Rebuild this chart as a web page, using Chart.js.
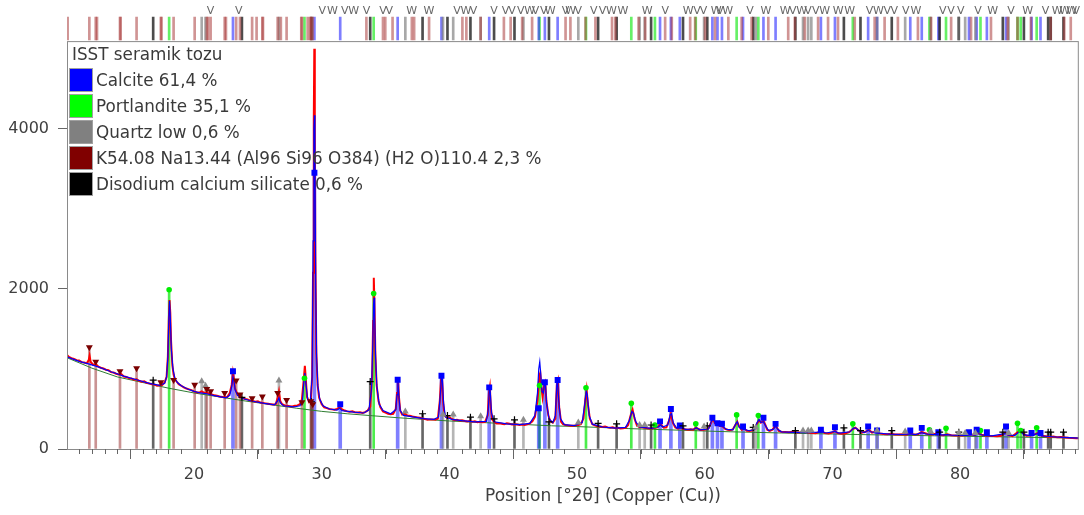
<!DOCTYPE html>
<html>
<head>
<meta charset="utf-8">
<script src="https://cdn.jsdelivr.net/npm/chart.js@4.4.1/dist/chart.umd.min.js"></script>
<style>
  body { margin: 0; background: #fff; }
  #wrap { position: relative; width: 1084px; height: 515px; }
  #legend { position: absolute; left: 69px; top: 43px; font: 16.8px 'DejaVu Sans', sans-serif; color: #3a3a3a; }
  #legend .title { height: 24px; line-height: 22px; padding-left: 3px; }
  #legend .row { display: flex; align-items: center; height: 26px; }
  #legend .box { width: 24px; height: 24px; box-sizing: border-box; border: 1px solid #a0a0a0; margin-right: 3px; }
</style>
</head>
<body>
<div id="wrap">
  <canvas id="myChart" width="1084" height="515"></canvas>
  <div id="legend"></div>
</div>
<script>
// axis ticks
const xTicks = [20, 30, 40, 50, 60, 70, 80];
const yTicks = [0, 2000, 4000];
const xTitle = 'Position [°2θ] (Copper (Cu))';

const legendTitle = 'ISST seramik tozu';
const phaseNames = ['Calcite 61,4 %', 'Portlandite 35,1 %', 'Quartz low 0,6 %',
  'K54.08 Na13.44 (Al96 Si96 O384) (H2 O)110.4 2,3 %', 'Disodium calcium silicate 0,6 %'];
const phaseColors = ['#0000ff', '#00ff00', '#808080', '#800000', '#000000'];

// observed scan [2theta, counts]
const observed = [
  [10.05,1175],[10.2,1150],[10.4,1135],[10.6,1125],[10.8,1110],[11.0,1105],[11.2,1085],[11.4,1080],[11.6,1070],[11.75,1110],
  [11.82,1165],[11.9,1090],[12.1,1050],[12.3,1060],[12.5,1030],[12.7,1015],[12.9,1005],[13.1,990],[13.3,985],[13.5,960],
  [13.7,955],[13.9,940],[14.1,930],[14.3,935],[14.5,905],[14.7,900],[14.9,885],[15.1,880],[15.3,865],[15.5,870],
  [15.7,850],[15.9,840],[16.1,845],[16.3,825],[16.5,820],[16.7,810],[16.9,805],[17.1,790],[17.3,795],[17.5,800],
  [17.7,830],[17.85,900],[17.95,1150],[18.02,1600],[18.08,1860],[18.14,1700],[18.2,1350],[18.3,1050],[18.4,930],[18.5,870],
  [18.65,840],[18.8,810],[19.0,790],[19.2,770],[19.4,755],[19.6,745],[19.8,735],[20.0,720],[20.2,710],[20.4,705],
  [20.6,720],[20.8,700],[21.0,705],[21.2,690],[21.4,680],[21.6,670],[21.8,665],[22.0,655],[22.2,650],[22.4,645],
  [22.6,650],[22.8,700],[22.95,800],[23.05,950],[23.12,880],[23.2,760],[23.3,720],[23.4,690],[23.6,650],[23.8,640],
  [24.0,625],[24.2,620],[24.4,605],[24.6,600],[24.8,590],[25.0,595],[25.2,580],[25.4,575],[25.6,570],[25.8,565],
  [26.0,560],[26.2,555],[26.4,560],[26.55,640],[26.65,720],[26.75,600],[26.9,560],[27.1,545],[27.3,540],[27.5,535],
  [27.7,530],[27.9,540],[28.1,545],[28.3,560],[28.45,620],[28.6,880],[28.68,1040],[28.76,860],[28.85,650],[29.0,590],
  [29.15,620],[29.25,900],[29.32,2200],[29.38,4100],[29.42,5000],[29.46,4000],[29.5,2400],[29.58,1200],[29.68,800],[29.8,640],
  [30.0,560],[30.2,520],[30.4,510],[30.6,500],[30.8,495],[31.0,490],[31.2,500],[31.4,520],[31.6,495],[31.8,480],
  [32.0,470],[32.2,465],[32.4,470],[32.6,460],[32.8,455],[33.0,460],[33.2,450],[33.4,460],[33.6,480],[33.8,530],
  [33.95,900],[34.03,1600],[34.08,2140],[34.14,1750],[34.2,1200],[34.3,800],[34.45,600],[34.6,520],[34.8,470],[35.0,455],
  [35.2,440],[35.4,435],[35.6,440],[35.8,500],[35.9,700],[35.97,880],[36.05,650],[36.15,480],[36.3,430],[36.5,440],
  [36.7,420],[36.9,415],[37.1,405],[37.3,400],[37.5,395],[37.7,390],[37.9,380],[38.1,375],[38.3,365],[38.5,370],
  [38.7,370],[38.9,365],[39.1,380],[39.25,600],[39.35,880],[39.42,910],[39.5,620],[39.6,430],[39.8,390],[40.0,395],
  [40.2,375],[40.4,360],[40.6,365],[40.8,355],[41.0,360],[41.2,350],[41.4,345],[41.6,350],[41.8,340],[42.0,345],
  [42.2,335],[42.4,340],[42.6,335],[42.8,340],[43.0,420],[43.1,700],[43.17,770],[43.25,520],[43.35,370],[43.5,340],
  [43.7,320],[43.9,320],[44.1,315],[44.3,310],[44.5,320],[44.7,315],[44.9,305],[45.1,310],[45.3,305],[45.5,300],
  [45.7,305],[45.9,300],[46.1,310],[46.3,320],[46.5,345],[46.7,400],[46.9,600],[47.05,920],[47.12,950],[47.2,780],
  [47.3,650],[47.42,800],[47.5,830],[47.6,600],[47.75,420],[47.9,350],[48.1,330],[48.3,380],[48.42,800],[48.5,850],
  [48.6,520],[48.75,340],[48.9,310],[49.1,300],[49.3,295],[49.5,290],[49.7,290],[49.9,295],[50.1,300],[50.3,310],
  [50.5,380],[50.65,620],[50.75,740],[50.85,560],[51.0,380],[51.2,310],[51.4,295],[51.6,285],[51.8,280],[52.0,275],
  [52.2,280],[52.4,270],[52.6,265],[52.8,270],[53.0,260],[53.2,265],[53.4,255],[53.6,260],[53.8,265],[54.0,300],
  [54.2,420],[54.35,490],[54.5,380],[54.7,290],[54.9,275],[55.1,270],[55.3,265],[55.5,258],[55.7,255],[55.9,260],
  [56.1,265],[56.3,270],[56.5,310],[56.6,300],[56.8,265],[57.0,270],[57.2,350],[57.35,440],[57.5,330],[57.7,270],
  [57.9,255],[58.1,270],[58.3,250],[58.5,245],[58.7,240],[58.9,245],[59.1,240],[59.3,265],[59.5,250],[59.7,238],
  [59.9,240],[60.1,245],[60.3,260],[60.5,330],[60.65,380],[60.8,320],[61.0,300],[61.2,290],[61.4,280],[61.6,250],
  [61.8,240],[62.0,235],[62.2,245],[62.4,300],[62.55,340],[62.7,280],[62.9,240],[63.1,255],[63.3,228],[63.5,225],
  [63.7,230],[63.9,250],[64.1,320],[64.25,360],[64.4,330],[64.6,350],[64.75,300],[64.9,240],[65.1,225],[65.3,240],
  [65.5,285],[65.65,270],[65.8,225],[66.0,215],[66.3,212],[66.6,210],[66.9,215],[67.2,205],[67.5,208],[67.8,215],
  [68.1,205],[68.4,200],[68.7,198],[69.0,215],[69.2,220],[69.4,200],[69.7,195],[70.0,205],[70.2,225],[70.4,200],
  [70.7,192],[71.0,195],[71.3,210],[71.6,250],[71.8,265],[72.0,240],[72.3,205],[72.6,215],[72.85,240],[73.1,205],
  [73.4,215],[73.7,195],[74.0,188],[74.3,185],[74.6,190],[74.9,182],[75.2,180],[75.5,183],[75.8,178],[76.1,195],
  [76.4,180],[76.7,185],[77.0,210],[77.2,200],[77.5,185],[77.8,180],[78.1,190],[78.4,175],[78.7,172],[79.0,185],
  [79.3,172],[79.6,168],[79.9,170],[80.2,168],[80.5,175],[80.8,185],[81.1,175],[81.4,195],[81.7,178],[82.0,170],
  [82.3,165],[82.6,162],[82.9,160],[83.2,165],[83.5,200],[83.8,175],[84.1,160],[84.4,195],[84.65,225],[84.9,200],
  [85.2,165],[85.5,170],[85.8,180],[86.1,200],[86.4,165],[86.7,158],[87.0,150],[87.3,155],[87.6,148],[87.9,150],
  [88.2,145],[88.5,140],[88.8,138],[89.1,135],[89.3,133]
];

// calculated profile
const calculated = [
  [10.05,1150],[11.0,1095],[11.8,1060],[12.5,1025],[13.5,965],[14.5,910],[15.5,865],[16.5,820],[17.3,795],[17.7,820],
  [17.85,900],[17.95,1150],[18.03,1650],[18.08,1850],[18.14,1650],[18.22,1250],[18.35,1000],[18.5,880],[18.7,830],[19.0,790],
  [19.5,750],[20.0,720],[20.5,700],[21.0,690],[21.5,670],[22.0,655],[22.5,640],[22.8,670],[22.95,780],[23.05,900],
  [23.12,860],[23.22,740],[23.4,670],[23.8,630],[24.5,600],[25.5,570],[26.3,552],[26.55,600],[26.65,640],[26.75,580],
  [27.0,540],[27.8,525],[28.3,540],[28.5,620],[28.62,880],[28.68,950],[28.76,820],[28.9,620],[29.1,580],[29.25,900],
  [29.33,2600],[29.39,4000],[29.43,4170],[29.47,3700],[29.53,2000],[29.6,1150],[29.7,780],[29.85,620],[30.1,540],[30.6,500],
  [31.2,485],[31.4,510],[31.6,480],[32.5,460],[33.3,450],[33.7,490],[33.9,750],[34.0,1300],[34.06,1800],[34.1,1890],
  [34.15,1650],[34.22,1150],[34.32,780],[34.5,560],[34.8,480],[35.4,440],[35.8,490],[35.9,680],[35.97,850],[36.05,650],
  [36.15,480],[36.4,420],[37.0,405],[38.0,380],[38.8,370],[39.15,400],[39.3,700],[39.38,900],[39.45,870],[39.55,560],
  [39.7,400],[40.2,370],[41.0,355],[42.0,340],[42.9,345],[43.05,500],[43.13,750],[43.2,720],[43.3,450],[43.5,340],
  [44.5,315],[45.5,305],[46.3,320],[46.7,420],[46.9,700],[47.0,1000],[47.08,1090],[47.15,950],[47.25,720],[47.35,700],
  [47.45,820],[47.52,800],[47.62,560],[47.8,380],[48.1,330],[48.3,420],[48.42,820],[48.48,850],[48.56,620],[48.7,380],
  [49.0,305],[49.8,292],[50.4,330],[50.6,560],[50.72,720],[50.8,680],[50.95,420],[51.2,310],[52.0,275],[53.0,262],
  [53.8,270],[54.1,360],[54.3,470],[54.42,450],[54.6,340],[54.9,275],[55.8,258],[56.4,280],[56.55,300],[56.7,275],
  [57.1,300],[57.3,430],[57.4,440],[57.55,320],[57.8,262],[58.1,265],[58.5,245],[59.2,250],[59.35,265],[59.6,240],
  [60.3,250],[60.55,360],[60.7,375],[60.85,310],[61.1,300],[61.4,285],[61.7,245],[62.2,240],[62.45,320],[62.55,340],
  [62.7,270],[63.0,248],[63.5,228],[63.9,245],[64.1,330],[64.25,370],[64.4,330],[64.6,340],[64.8,280],[65.0,230],
  [65.4,250],[65.55,290],[65.7,250],[66.0,215],[67.0,208],[68.0,203],[69.0,210],[69.2,215],[69.5,200],[70.2,220],
  [70.5,198],[71.4,215],[71.65,260],[71.85,262],[72.1,225],[72.5,205],[72.8,235],[73.0,215],[73.5,200],[74.5,186],
  [75.5,181],[76.1,190],[76.5,180],[77.0,205],[77.3,190],[78.0,180],[78.4,175],[79.0,180],[79.4,172],[80.5,170],
  [80.8,180],[81.2,172],[81.45,190],[81.8,172],[82.5,163],[83.5,192],[83.8,172],[84.3,170],[84.55,205],[84.75,215],
  [85.0,180],[85.5,168],[86.05,192],[86.4,162],[87.5,150],[88.5,142],[89.3,135]
];

// fitted background
const background = [
  [10.05,1140],[12,1010],[14,900],[16,830],[18,760],[20,700],[22,650],[24,600],[26,555],[28,510],
  [30,470],[32,440],[34,415],[36,390],[38,370],[40,350],[42,335],[44,320],[46,305],[48,290],
  [50,280],[52,268],[54,255],[56,245],[58,235],[60,225],[62,215],[64,208],[66,200],[68,193],
  [70,187],[72,181],[74,175],[76,170],[78,165],[80,160],[82,155],[84,150],[86,145],[88,140],[89.3,137]
];

// reference patterns [2theta, marker height]
const calcite = [
  [23.05,970],[29.43,3450],[31.45,560],[35.95,865],[39.38,915],[43.12,770],[47.0,510],[47.48,833],[48.48,863],[56.5,345],
  [57.35,500],[58.05,295],[60.6,390],[61.0,322],[61.35,315],[63.0,280],[64.6,390],[65.55,314],[69.1,240],[70.2,272],
  [72.8,280],[73.5,230],[76.1,230],[77.0,264],[78.3,210],[80.7,210],[81.3,240],[82.1,210],[83.6,280],[85.6,200],[86.3,200]
];
const portlandite = [
  [18.05,1990],[28.65,883],[34.07,1943],[47.06,792],[50.7,765],[54.25,570],[56.1,300],[59.3,314],[62.5,426],[64.2,418],
  [71.6,314],[77.6,240],[78.9,260],[81.6,230],[84.5,322],[84.75,230],[86.0,264]
];
const quartz = [
  [20.6,845],[20.9,790],[26.65,855],[36.55,467],[39.5,430],[40.3,430],[42.45,410],[45.8,364],[50.1,330],[54.9,300],
  [55.3,300],[59.95,280],[64.0,270],[67.7,230],[68.1,230],[68.35,230],[73.5,230],[75.7,220],[77.7,220],[79.9,200],
  [80.4,200],[81.2,200],[83.8,200]
];
const kNaZeolite = [
  [11.8,1270],[12.3,1090],[14.2,970],[15.5,1010],[17.4,833],[18.4,863],[20.05,804],[21.0,750],[21.3,720],[22.4,700],
  [23.3,855],[23.6,680],[24.55,633],[25.35,655],[26.55,700],[27.25,613],[28.45,584],[29.15,596],[29.3,560]
];
const disodium = [
  [16.8,860],[23.75,645],[29.2,590],[33.8,842],[37.9,440],[39.85,418],[41.65,397],[43.5,377],[45.1,364],[47.8,340],
  [51.65,320],[53.1,315],[55.8,300],[58.3,290],[60.2,290],[63.8,270],[67.1,230],[70.9,264],[72.2,230],[74.65,230],
  [78.4,210],[79.9,210],[83.35,210],[85.0,210],[86.9,210],[87.1,210],[88.1,210]
];
// weak K-Na lines shown only in the top strip
const kNaStrip = [
  10.1,12.4,14.25,17.45,21.1,22.5,24.9,25.4,26.8,28.4,28.9,29.1,33.5,34.8,34.98,35.55,37.06,37.24,38.41,41.02,
  41.33,42.45,44.27,44.8,45.7,46.48,49.1,49.48,50.66,51.44,52.74,53.0,54.82,55.34,56.9,57.42,58.86,59.25,60.03,60.81,
  61.85,62.89,63.67,64.98,66.54,67.06,67.84,68.88,69.66,70.44,71.75,73.31,74.09,75.13,76.7,77.73,79.3,80.86,82.42,83.73,
  84.5,85.55,87.1,88.16,88.67
];
// peak-list letters above the strip
const vMarks = [21.3,23.5,30.05,31.8,33.5,34.8,35.3,40.6,41.9,43.5,44.4,44.9,45.6,46.75,47.4,49.1,50.1,51.3,52.0,56.9,
  59.4,59.9,61.2,63.55,66.9,68.1,68.7,72.9,74.3,74.85,75.75,78.65,79.3,80.05,81.4,84.0,86.7,89.1];
const wMarks = [30.85,32.5,37.05,38.4,41.3,46.3,47.9,49.5,52.7,53.6,55.5,58.7,60.9,61.8,64.8,66.3,67.6,69.4,70.45,71.35,
  73.6,76.55,82.55,85.3,87.6,88.2,88.75];

// legend
const legendEl = document.getElementById('legend');
legendEl.innerHTML = '<div class="title">' + legendTitle + '</div>' + phaseNames.map((n, i) =>
  '<div class="row"><div class="box" style="background:' + phaseColors[i] + '"></div><span>' + n + '</span></div>').join('');

Chart.defaults.font.family = "'DejaVu Sans', sans-serif";
Chart.defaults.color = '#404040';

const xy = arr => arr.map(p => ({x: p[0], y: p[1]}));
const stick = arr => arr.map(p => ({x: p[0], y: [0, p[1]]}));
const stripLine = xs => xs.map(v => ({x: v, y: [0.03, 0.67]}));
const noPad = s => { s.paddingTop = 0; s.paddingBottom = 0; s.paddingLeft = 0; s.paddingRight = 0; };

function stickSet(data, color, axis, order, thick) {
  return { type: 'bar', data: data, yAxisID: axis, backgroundColor: color, borderWidth: 0,
    barThickness: thick || 2, grouped: false, order: order };
}
function markerSet(data, style, color, radius, rotation) {
  return { type: 'line', data: xy(data), yAxisID: 'y', showLine: false, pointStyle: style,
    pointRadius: radius, pointBackgroundColor: color, pointBorderColor: color, pointBorderWidth: style === 'cross' ? 1.2 : 0,
    pointRotation: rotation || 0, order: 0 };
}

const extras = {
  id: 'extras',
  afterDatasetsDraw(chart) {
    const ctx = chart.ctx;
    const x = chart.scales.x, y = chart.scales.y, yr = chart.scales.yRef;
    ctx.save();
    ctx.strokeStyle = '#8a8a8a';
    ctx.lineWidth = 1;
    ctx.strokeRect(x.left + 0.5, y.top + 0.5, x.right - x.left - 1, y.bottom - y.top);
    // minor ticks
    ctx.strokeStyle = '#666';
    ctx.beginPath();
    for (let v = Math.ceil(x.min); v <= x.max; v++) {
      if (v % 10 === 0) continue;
      const px = Math.round(x.getPixelForValue(v)) + 0.5;
      ctx.moveTo(px, y.bottom);
      ctx.lineTo(px, y.bottom + 5);
    }
    ctx.stroke();
    ctx.fillStyle = '#404040';
    ctx.font = "17px 'DejaVu Sans', sans-serif";
    ctx.textAlign = 'center';
    ctx.textBaseline = 'middle';
    ctx.fillText(xTitle, 603, 497);
    ctx.fillStyle = '#666';
    ctx.font = "11px 'DejaVu Sans', sans-serif";
    const ty = yr.getPixelForValue(0.84);
    vMarks.forEach(v => ctx.fillText('V', x.getPixelForValue(v), ty));
    wMarks.forEach(v => ctx.fillText('W', x.getPixelForValue(v), ty));
    ctx.restore();
  }
};

new Chart(document.getElementById('myChart'), {
  type: 'line',
  data: {
    datasets: [
      stickSet(stripLine(kNaStrip.concat(kNaZeolite.map(p => p[0]))), 'rgba(170,60,60,0.55)', 'yRef', 9),
      stickSet(stripLine(quartz.map(p => p[0])), 'rgba(110,110,110,0.6)', 'yRef', 9),
      stickSet(stripLine(disodium.map(p => p[0])), 'rgba(0,0,0,0.7)', 'yRef', 9),
      stickSet(stripLine(calcite.map(p => p[0])), 'rgba(40,40,255,0.6)', 'yRef', 9),
      stickSet(stripLine(portlandite.map(p => p[0])), 'rgba(0,230,0,0.6)', 'yRef', 9),

      stickSet(stick(kNaZeolite), 'rgba(150,40,40,0.5)', 'y', 8),
      stickSet(stick(quartz), 'rgba(120,120,120,0.55)', 'y', 8),
      stickSet(stick(disodium), 'rgba(0,0,0,0.6)', 'y', 8),
      stickSet(stick(calcite), 'rgba(0,0,255,0.5)', 'y', 8, 3),
      stickSet(stick(portlandite), 'rgba(0,230,0,0.7)', 'y', 8),

      { data: xy(background), yAxisID: 'y', borderColor: '#2e7d32', borderWidth: 1, pointRadius: 0, order: 3 },
      { data: xy(observed), yAxisID: 'y', borderColor: '#ff0000', borderWidth: 2, pointRadius: 0, order: 2 },
      { data: xy(calculated), yAxisID: 'y', borderColor: '#0000ff', borderWidth: 1.2, pointRadius: 0, order: 1 },

      markerSet(kNaZeolite, 'triangle', '#7a0000', 4, 180),
      markerSet(quartz, 'triangle', '#8c8c8c', 4),
      markerSet(disodium, 'cross', '#000000', 3.5),
      markerSet(calcite, 'rect', '#0000ff', 4.2),
      markerSet(portlandite, 'circle', '#00ee00', 2.8)
    ]
  },
  options: {
    responsive: false,
    animation: false,
    layout: { padding: { top: 0, right: 1, bottom: 0, left: 0 } },
    plugins: { legend: { display: false }, tooltip: { enabled: false } },
    scales: {
      x: {
        type: 'linear', min: 10.05, max: 89.3, offset: false,
        afterBuildTicks: s => { s.ticks = xTicks.map(v => ({value: v})); },
        afterFit: s => { s.height = 66; noPad(s); },
        ticks: { font: { size: 16 }, color: '#404040', padding: 6, maxRotation: 0, autoSkip: false,
          callback: v => String(v) },
        grid: { drawOnChartArea: false, tickLength: 10, color: '#666' },
        border: { display: false }
      },
      y: {
        type: 'linear', min: 0, max: 5095, stack: 'v', stackWeight: 409,
        afterBuildTicks: s => { s.ticks = yTicks.map(v => ({value: v})); },
        afterFit: s => { s.width = 67; noPad(s); },
        ticks: { font: { size: 16 }, color: '#404040', padding: 9, callback: v => String(v) },
        grid: { drawOnChartArea: false, tickLength: 9, color: '#666' },
        border: { display: false }
      },
      yRef: {
        type: 'linear', position: 'left', min: 0, max: 1, stack: 'v', stackWeight: 36,
        afterFit: s => { s.width = 67; noPad(s); },
        ticks: { display: false },
        grid: { display: false },
        border: { display: false }
      }
    }
  },
  plugins: [extras]
});
</script>
</body>
</html>
